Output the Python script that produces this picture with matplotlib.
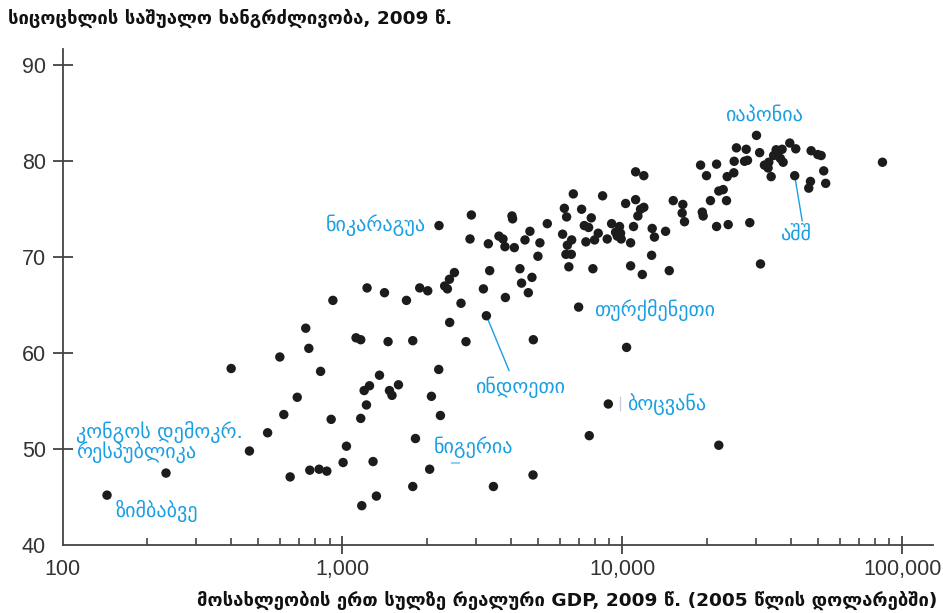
import matplotlib
matplotlib.use("Agg")
import matplotlib.pyplot as plt
from matplotlib.ticker import FixedLocator, NullFormatter, FixedFormatter

# Real GDP per capita, 2009 (2005 dollars) and life expectancy at birth, 2009
gdp = [
    924, 739, 758, 597, 400, 835, 1118, 1162, 689, 617, 911, 1162, 540, 1033,
    465, 1005, 234, 764, 825, 879, 650, 144, 1172,
    1224, 1413, 1693, 1888, 2017, 2318, 2371, 3189, 4365, 4615, 3822, 2652,
    3268, 6982, 2416, 1455, 1783, 2763, 4809, 10360, 1356, 2208, 1195, 1249,
    1472, 1503, 1585, 2079, 1218, 2239, 8913, 1823, 7621, 22130, 1286, 2049,
    4797, 1783, 3463, 1322,
    11160, 11940, 6683, 8505, 10280, 11160, 11940, 11620, 11370, 6208, 7155,
    6324, 7748, 2888, 4034, 4055, 5395, 2213, 7315, 7580, 9160, 9775, 10970,
    12790, 2856, 3321, 3624, 3747, 3807, 4113, 4490, 4677, 5077, 4995, 6120,
    6592, 6364, 6289, 6574, 7413, 7962, 8204, 8833, 9462, 9860, 9910, 9598,
    10710, 12730, 6442, 7852, 10710, 11790, 3358, 4307, 4755, 2411, 2512,
    30180, 25590, 27730, 30970, 35480, 37260, 39690, 41690, 47320, 49980,
    51380, 85100, 25120, 27350, 28030, 19050, 21730, 20000, 25040, 23710,
    32220, 33390, 34750, 35770, 36730, 37570, 33200, 34050, 41330, 52480,
    47060, 46400, 53340, 15210, 16460, 16370, 16690, 19320, 19460, 20660,
    22130, 22950, 23580, 21730, 23910, 28560, 31190, 13030, 14280, 14720,
]
life = [
    65.5, 62.6, 60.5, 59.6, 58.4, 58.1, 61.6, 61.4, 55.4, 53.6, 53.1, 53.2, 51.7,
    50.3, 49.8, 48.6, 47.5, 47.8, 47.9, 47.7, 47.1, 45.2, 44.1,
    66.8, 66.3, 65.5, 66.8, 66.5, 67.0, 66.7, 66.7, 67.3, 66.3, 65.8, 65.2,
    63.9, 64.8, 63.2, 61.2, 61.3, 61.2, 61.4, 60.6, 57.7, 58.3, 56.1, 56.6,
    56.1, 55.6, 56.7, 55.5, 54.6, 53.5, 54.7, 51.1, 51.4, 50.4, 48.7, 47.9,
    47.3, 46.1, 46.1, 45.1,
    78.9, 78.5, 76.6, 76.4, 75.6, 76.0, 75.2, 75.0, 74.3, 75.1, 75.0,
    74.2, 74.1, 74.4, 74.3, 74.0, 73.5, 73.3, 73.3, 73.1, 73.5, 73.2, 73.2,
    73.0, 71.9, 71.4, 72.2, 71.9, 71.1, 71.0, 71.8, 72.7, 71.5, 70.1, 72.4,
    71.8, 71.25, 70.3, 70.3, 71.6, 71.8, 72.5, 71.9, 72.6, 72.5, 71.9, 72.2,
    71.5, 70.2, 69.0, 68.8, 69.1, 68.2, 68.6, 68.8, 67.9, 67.7, 68.4,
    82.7, 81.4, 81.25, 80.9, 81.2, 81.25, 81.9, 81.3, 81.1, 80.7,
    80.6, 79.9, 80.0, 80.0, 80.1, 79.6, 79.7, 78.5, 78.8, 78.4,
    79.6, 79.9, 80.6, 81.0, 80.3, 79.9, 79.3, 78.4, 78.5, 79.0,
    77.9, 77.2, 77.7, 75.9, 75.5, 74.6, 73.7, 74.7, 74.3, 75.9,
    76.9, 77.05, 75.9, 73.2, 73.4, 73.6, 69.3, 72.1, 72.7, 68.6,
]

x_ticks = [100, 1000, 10000, 100000]
x_tick_labels = ["100", "1,000", "10,000", "100,000"]
y_ticks = [40, 50, 60, 70, 80, 90]

title = "სიცოცხლის საშუალო ხანგრძლივობა, 2009 წ."
x_title = "მოსახლეობის ერთ სულზე რეალური GDP, 2009 წ. (2005 წლის დოლარებში)"

BLUE = "#1a9fe3"
AXIS = "#444444"
TICKTXT = "#333333"
geo_font = ["DejaVu Sans"]
num_font = ["Liberation Sans Narrow", "Liberation Sans", "DejaVu Sans"]

fig = plt.figure(figsize=(9.43, 6.13), dpi=100)
ax = fig.add_axes([0.0665, 0.1109, 0.9229, 0.8091])

ax.scatter(gdp, life, s=46, color="#1c1c1c", edgecolors="none", zorder=3)

ax.set_xscale("log")
ax.set_xlim(100, 129000)
ax.set_ylim(40, 91.7)

for s in ("top", "right"):
    ax.spines[s].set_visible(False)
for s in ("left", "bottom"):
    ax.spines[s].set_color(AXIS)
    ax.spines[s].set_linewidth(1.3)

ax.xaxis.set_major_locator(FixedLocator(x_ticks))
ax.xaxis.set_major_formatter(FixedFormatter(x_tick_labels))
minor = [m * d for d in (100, 1000, 10000) for m in range(2, 10)] + [200000]
ax.xaxis.set_minor_locator(FixedLocator(minor))
ax.xaxis.set_minor_formatter(NullFormatter())
ax.tick_params(axis="x", which="major", direction="inout", length=12.5, width=1.3,
               color=AXIS, pad=4, labelsize=15.5, labelcolor=TICKTXT)
ax.tick_params(axis="x", which="minor", direction="in", length=5.2, width=1.2,
               color=AXIS)
ax.set_yticks(y_ticks)
ax.tick_params(axis="y", which="major", direction="inout", length=14, width=1.3,
               color=AXIS, pad=5, labelsize=15.5, labelcolor=TICKTXT)
ax.xaxis.get_major_ticks()[0].tick1line.set_visible(False)
ax.yaxis.get_major_ticks()[0].tick1line.set_visible(False)
for lab in ax.get_xticklabels() + ax.get_yticklabels():
    lab.set_family(num_font)

fig.text(0.008, 0.970, title, family=geo_font, fontsize=13.3, fontweight="bold",
         color="#111111", ha="left", va="center")
fig.text(0.994, 0.021, x_title, family=geo_font, fontsize=13.3, fontweight="bold",
         color="#111111", ha="right", va="center")

lab_kw = dict(family=geo_font, fontsize=14.5, color=BLUE, va="center")
ax.text(32000, 84.8, "იაპონია", ha="center", **lab_kw)
ax.text(41600, 72.4, "აშშ", ha="center", **lab_kw)
ax.plot([41330, 43950], [78.5, 73.8], color=BLUE, lw=1.0, zorder=2)
ax.text(1984, 73.3, "ნიკარაგუა", ha="right", **lab_kw)
ax.text(7898, 64.5, "თურქმენეთი", ha="left", **lab_kw)
ax.text(4315, 56.4, "ინდოეთი", ha="center", **lab_kw)
ax.plot([3268, 3936], [63.9, 58.2], color=BLUE, lw=1.0, zorder=2)
ax.text(10420, 54.7, "ბოცვანა", ha="left", **lab_kw)
ax.plot([9790, 9790], [55.45, 54.06], color="#d0c8e8", lw=1.0, zorder=2)
ax.text(2124, 50.2, "ნიგერია", ha="left", **lab_kw)
ax.plot([2470, 2609], [48.5, 48.5], color="#8ccff2", lw=1.5, zorder=2)
ax.text(111.6, 51.8, "კონგოს დემოკრ.", ha="left", **lab_kw)
ax.text(111.6, 49.7, "რესპუბლიკა", ha="left", **lab_kw)
ax.text(155, 43.6, "ზიმბაბვე", ha="left", **lab_kw)

fig.savefig("out.png", dpi=100)
